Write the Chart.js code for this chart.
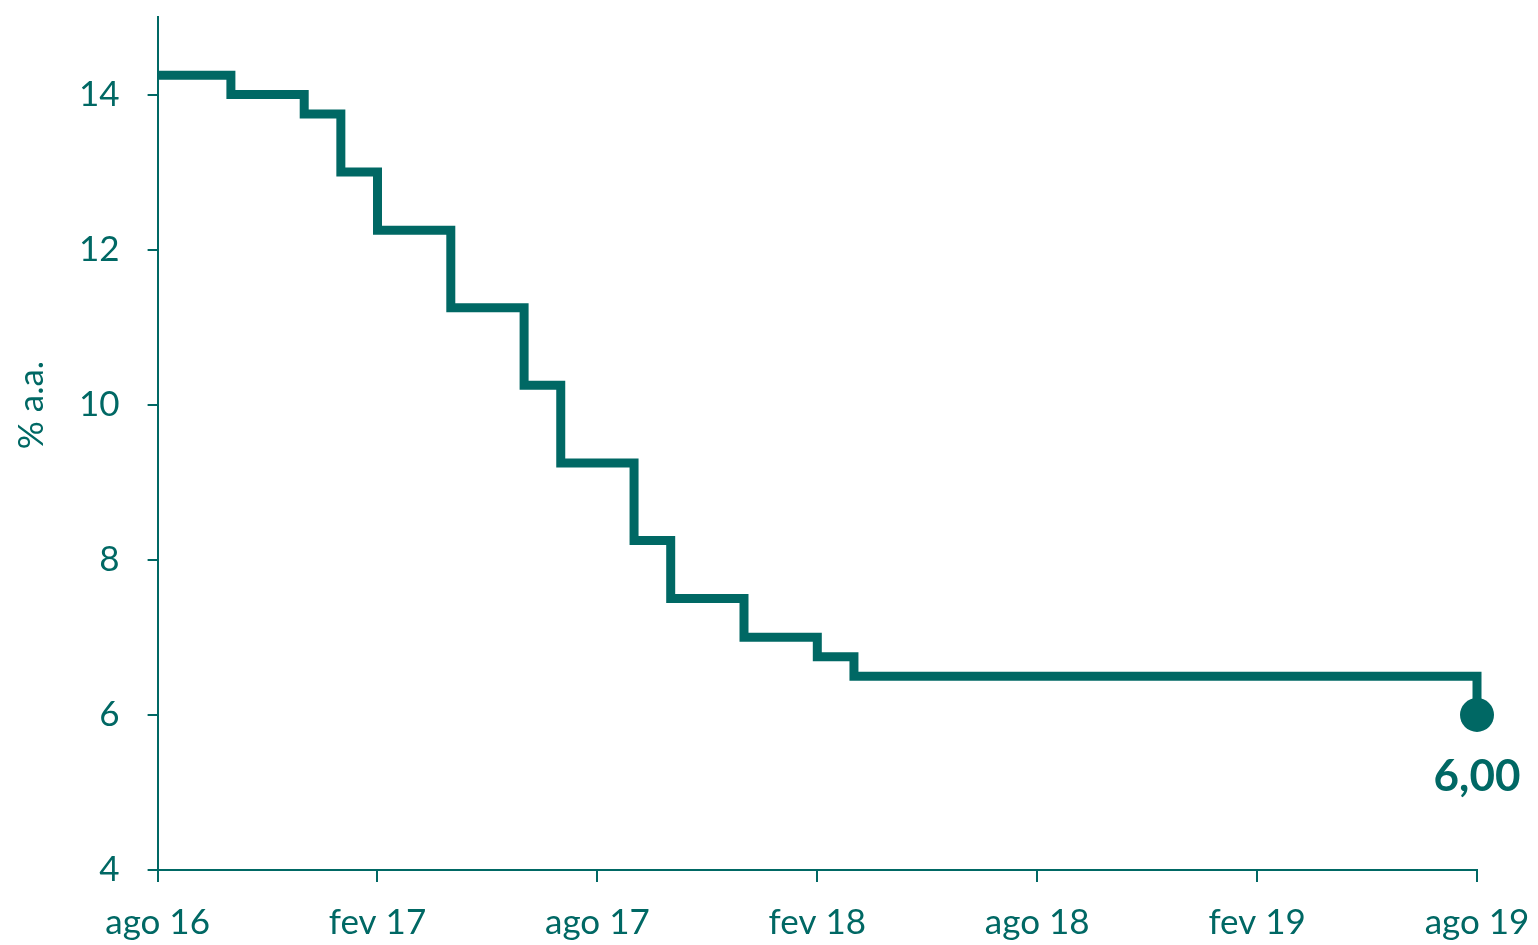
<!DOCTYPE html>
<html>
<head>
<meta charset="utf-8">
<script src="https://cdn.jsdelivr.net/npm/chart.js@4.4.1/dist/chart.umd.min.js"></script>
<style>
    html, body { margin: 0; padding: 0; background: #fff; }
    #wrap { width: 1538px; height: 945px; position: relative; }
</style>
</head>
<body>
<div id="wrap"><canvas id="selicChart"></canvas></div>
<script>
// meses (eixo x) e meta Selic (% a.a.)
const meses = ['ago 16', 'set 16', 'out 16', 'nov 16', 'dez 16',
    'jan 17', 'fev 17', 'mar 17', 'abr 17', 'mai 17', 'jun 17', 'jul 17', 'ago 17', 'set 17', 'out 17', 'nov 17', 'dez 17',
    'jan 18', 'fev 18', 'mar 18', 'abr 18', 'mai 18', 'jun 18', 'jul 18', 'ago 18', 'set 18', 'out 18', 'nov 18', 'dez 18',
    'jan 19', 'fev 19', 'mar 19', 'abr 19', 'mai 19', 'jun 19', 'jul 19', 'ago 19'];
const selic = [14.25, 14.25, 14.00, 14.00, 13.75,
    13.00, 12.25, 12.25, 11.25, 11.25, 10.25, 9.25, 9.25, 8.25, 7.50, 7.50, 7.00,
    7.00, 6.75, 6.50, 6.50, 6.50, 6.50, 6.50, 6.50, 6.50, 6.50, 6.50, 6.50,
    6.50, 6.50, 6.50, 6.50, 6.50, 6.50, 6.50, 6.00];
const xTickLabels = ['ago 16', 'fev 17', 'ago 17', 'fev 18', 'ago 18', 'fev 19', 'ago 19'];
const yTicks = [4, 6, 8, 10, 12, 14];
const ultimoRotulo = '6,00';
const yTitulo = '% a.a.';

const TEAL = '#006864';
const FONT = 'Lato, "Open Sans", sans-serif';
const last = selic.length - 1;

// rótulo do último ponto + título do eixo y
const extrasPlugin = {
    id: 'extras',
    afterDraw(chart) {
        const ctx = chart.ctx;
        const pt = chart.getDatasetMeta(0).data[last];
        ctx.save();
        ctx.fillStyle = TEAL;
        ctx.font = 'bold 44px ' + FONT;
        ctx.textAlign = 'center';
        ctx.textBaseline = 'middle';
        ctx.fillText(ultimoRotulo, pt.x, pt.y + 62);

        const area = chart.chartArea;
        ctx.font = '35px ' + FONT;
        ctx.translate(32, area.top + (area.bottom - area.top) * 0.455);
        ctx.rotate(-Math.PI / 2);
        ctx.fillText(yTitulo, 0, 0);
        ctx.restore();
    }
};

// sem folga extra para os rótulos nas pontas dos eixos
function noEdgePadding(axis) {
    axis.paddingTop = 0;
    axis.paddingBottom = 0;
    axis.paddingLeft = 0;
    axis.paddingRight = 0;
}

new Chart(document.getElementById('selicChart'), {
    type: 'line',
    data: {
        labels: meses,
        datasets: [{
            data: selic,
            borderColor: TEAL,
            backgroundColor: TEAL,
            borderWidth: 9,
            borderJoinStyle: 'miter',
            borderCapStyle: 'butt',
            stepped: 'before',
            fill: false,
            pointRadius: ctx => ctx.dataIndex === last ? 17 : 0,
            pointHoverRadius: ctx => ctx.dataIndex === last ? 17 : 0,
            pointBorderWidth: 0
        }]
    },
    options: {
        responsive: true,
        maintainAspectRatio: false,
        animation: false,
        layout: { padding: { left: 51, right: 61, top: 14, bottom: -19 } },
        plugins: {
            legend: { display: false },
            tooltip: { enabled: false }
        },
        scales: {
            x: {
                type: 'category',
                offset: false,
                afterFit: noEdgePadding,
                border: { color: TEAL, width: 2 },
                grid: {
                    drawOnChartArea: false,
                    drawTicks: true,
                    tickLength: 12,
                    lineWidth: 2,
                    tickColor: ctx => ctx.index % 6 === 0 ? TEAL : 'rgba(0,0,0,0)'
                },
                ticks: {
                    autoSkip: false,
                    maxRotation: 0,
                    minRotation: 0,
                    padding: 20,
                    color: TEAL,
                    font: { family: FONT, size: 35 },
                    callback: function (value) {
                        const label = this.getLabelForValue(value);
                        return xTickLabels.includes(label) ? label : '';
                    }
                }
            },
            y: {
                min: 4,
                max: 15,
                afterBuildTicks: axis => { axis.ticks = yTicks.map(v => ({ value: v })); },
                afterFit: noEdgePadding,
                border: { color: TEAL, width: 2 },
                grid: {
                    drawOnChartArea: false,
                    drawTicks: true,
                    tickLength: 10,
                    lineWidth: 2,
                    tickColor: TEAL
                },
                ticks: {
                    padding: 28,
                    color: TEAL,
                    font: { family: FONT, size: 35 }
                }
            }
        }
    },
    plugins: [extrasPlugin]
});
</script>
</body>
</html>
